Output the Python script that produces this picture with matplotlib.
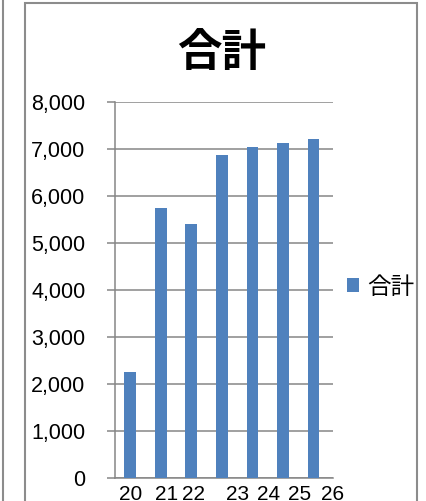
import matplotlib
matplotlib.use('Agg')
import numpy as np
import matplotlib.pyplot as plt
from matplotlib.patches import Rectangle
from matplotlib.lines import Line2D
from matplotlib.ticker import FuncFormatter

# ---- data ----
categories = ["20", "21", "22", "23", "24", "25", "26"]
values = [2250, 5740, 5390, 6870, 7040, 7120, 7200]
series_name = "合計"
title = "合計"
y_ticks = [0, 1000, 2000, 3000, 4000, 5000, 6000, 7000, 8000]

plt.rcParams['font.family'] = ['Liberation Sans', 'Noto Sans CJK JP']

W, H = 426, 501
fig = plt.figure(figsize=(W / 100, H / 100), dpi=100)
fig.patch.set_facecolor('white')

ax = fig.add_axes([115 / W, (H - 477.7) / H, 218 / W, 376 / H])
x = np.arange(len(categories))
ax.bar(x, values, width=0.385, color='#4F81BD', label=series_name, zorder=3)
ax.set_xlim(-0.5, len(categories) - 0.5)
ax.set_ylim(y_ticks[0], y_ticks[-1])
ax.set_yticks(y_ticks)
ax.yaxis.set_major_formatter(FuncFormatter(lambda v, p: f"{int(v):,}"))
ax.grid(axis='y', color='#868686', linewidth=1.1, zorder=0)
ax.set_axisbelow(True)
for s in ['top', 'right']:
    ax.spines[s].set_visible(False)
for s in ['left', 'bottom']:
    ax.spines[s].set_color('#868686')
    ax.spines[s].set_linewidth(1.1)
ax.tick_params(axis='y', length=5.76, width=1.1, color='#868686', pad=15.5,
               labelsize=15.5, labelcolor='black')

# category labels (slightly shifted as in the original rendering)
label_shift = [0.0, 0.2, 0.06, 0.51, 0.54, 0.55, 0.64]
ax.set_xticks(x + np.array(label_shift))
ax.set_xticklabels(categories)
ax.tick_params(axis='x', length=0, pad=5.5, labelsize=15, labelcolor='black')

# title
fig.text(221.5 / W, 1 - 53 / H, title, fontsize=32, fontweight='bold',
         family=['Noto Sans CJK JP'], ha='center', va='center')

# legend
ax.legend(loc='center left', bbox_to_anchor=(347 / W, 1 - 287 / H),
          bbox_transform=fig.transFigure, frameon=False, borderpad=0,
          borderaxespad=0, handlelength=0.5, handleheight=0.5,
          handletextpad=0.35, prop={'family': ['Noto Sans CJK JP'], 'size': 17})

# chart frame and neighbouring frame edge
fig.add_artist(Rectangle((25 / W, -0.05), (417 - 25) / W, 1.05 - 3 / H,
                         transform=fig.transFigure, fill=False,
                         edgecolor='#8c8c8c', linewidth=1.5))
fig.add_artist(Line2D([3 / W, 3 / W], [0, 1], transform=fig.transFigure,
                      color='#8c8c8c', linewidth=1.5))

fig.savefig('out.png', dpi=100)
